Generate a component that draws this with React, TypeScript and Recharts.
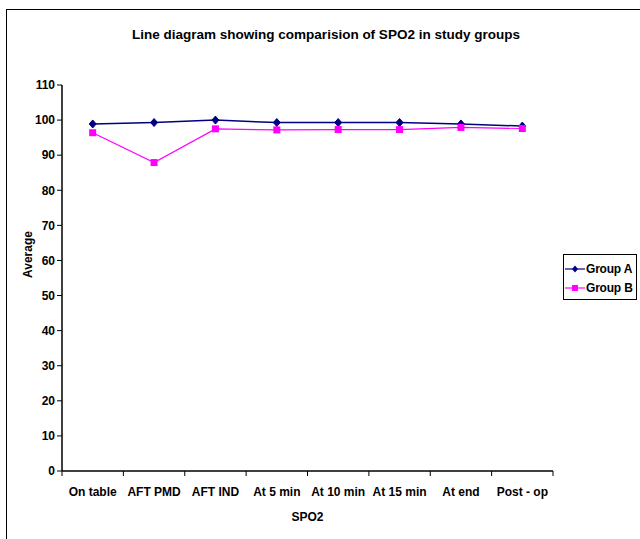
import React from 'react';
import { ComposedChart, Line, XAxis, YAxis } from 'recharts';

const stages = ['On table', 'AFT PMD', 'AFT IND', 'At 5 min', 'At 10 min', 'At 15 min', 'At end', 'Post - op'];
const groupA = [98.9, 99.3, 100, 99.3, 99.3, 99.3, 98.9, 98.3];
const groupB = [96.4, 87.9, 97.5, 97.2, 97.3, 97.3, 97.9, 97.6];
const yTicks = [0, 10, 20, 30, 40, 50, 60, 70, 80, 90, 100, 110];

const data = stages.map((s, i) => ({ stage: s, a: groupA[i], b: groupB[i] }));

const font = '"Liberation Sans", Arial, sans-serif';

const Diamond = (props: any) => {
    const { cx, cy } = props;
    if (cx == null || cy == null) return null;
    return <path d={`M${cx},${cy - 4}L${cx + 3.5},${cy}L${cx},${cy + 4}L${cx - 3.5},${cy}Z`} fill="#000080" stroke="#000080" />;
};

const Square = (props: any) => {
    const { cx, cy } = props;
    if (cx == null || cy == null) return null;
    return <rect x={cx - 3.5} y={cy - 3.5} width={7} height={7} fill="#FF00FF" />;
};

// category label at band centre, tick marks at band edges
const CatTick = (props: any) => {
    const { x, y, payload, index, visibleTicksCount, width } = props;
    const bw = width / visibleTicksCount;
    const left = x - bw / 2;
    return (
        <g>
            <line x1={left} y1={y} x2={left} y2={y + 5} stroke="#000" />
            {index === visibleTicksCount - 1 && <line x1={x + bw / 2} y1={y} x2={x + bw / 2} y2={y + 5} stroke="#000" />}
            <text x={x} y={y + 25} textAnchor="middle" fill="#000" fontFamily={font} fontWeight={700} fontSize={12}>
                {payload.value}
            </text>
        </g>
    );
};

const LegendBox = () => (
    <div style={{ position: 'absolute', left: 563, top: 254, border: '1px solid #000', width: 74, height: 46, boxSizing: 'border-box', background: '#fff', fontFamily: font, fontWeight: 700, fontSize: 12, padding: '4px 0 0 1px', whiteSpace: 'nowrap' }}>
        {[{ name: 'Group A', c: '#000080', m: 'd' }, { name: 'Group B', c: '#FF00FF', m: 's' }].map((it) => (
            <div key={it.name} style={{ display: 'flex', alignItems: 'center', height: 19 }}>
                <svg width={20} height={10} style={{ marginRight: 1, flex: 'none' }}>
                    <line x1={0} y1={5} x2={20} y2={5} stroke={it.c} strokeWidth={1.2} />
                    {it.m === 'd'
                        ? <path d="M10,1.5L13,5L10,8.5L7,5Z" fill={it.c} />
                        : <rect x={7} y={2} width={6} height={6} fill={it.c} />}
                </svg>
                <span style={{ letterSpacing: -0.2 }}>{it.name}</span>
            </div>
        ))}
    </div>
);

export default function App() {
    return (
        <div style={{ position: 'absolute', left: 0, top: 0, width: 640, height: 539, background: '#fff', overflow: 'hidden' }}>
            <div style={{ position: 'absolute', left: 6, top: 9, width: 700, height: 600, borderLeft: '1px solid #000', borderTop: '1px solid #000' }} />
            <div style={{ position: 'absolute', left: 6, top: 27, width: 640, textAlign: 'center', fontFamily: font, fontWeight: 700, fontSize: 13.5 }}>
                Line diagram showing comparision of SPO2 in study groups
            </div>
            <ComposedChart
                width={640}
                height={539}
                data={data}
                margin={{ top: 85, right: 87, left: 6, bottom: 38 }}
                style={{ position: 'absolute', left: 0, top: 0 }}
            >
                <XAxis xAxisId="top" orientation="top" dataKey="stage" tick={false} tickLine={false} axisLine={{ stroke: '#808080' }} height={0} />
                <XAxis
                    xAxisId="cat"
                    dataKey="stage"
                    scale="band"
                    interval={0}
                    tickLine={false}
                    tickSize={0}
                    tickMargin={0}
                    axisLine={{ stroke: '#000', strokeWidth: 1.5 }}
                    tick={<CatTick />}
                    height={30}
                    label={{ value: 'SPO2', position: 'insideBottom', offset: -20, fill: '#000', fontFamily: font, fontWeight: 700, fontSize: 12 }}
                />
                <YAxis
                    domain={[0, 110]}
                    ticks={yTicks}
                    interval={0}
                    width={56}
                    tickSize={5}
                    tickLine={{ stroke: '#000' }}
                    axisLine={{ stroke: '#000', strokeWidth: 1.5 }}
                    tick={{ fill: '#000', fontFamily: font, fontWeight: 700, fontSize: 12 }}
                    label={{ value: 'Average', angle: -90, position: 'insideLeft', offset: 22, fill: '#000', fontFamily: font, fontWeight: 700, fontSize: 12 }}
                />
                <YAxis yAxisId="right" orientation="right" width={0} tick={false} tickLine={false} axisLine={{ stroke: '#808080' }} />
                <Line xAxisId="cat" dataKey="a" name="Group A" stroke="#000080" strokeWidth={1.5} dot={<Diamond />} activeDot={false} isAnimationActive={false} />
                <Line xAxisId="cat" dataKey="b" name="Group B" stroke="#FF00FF" strokeWidth={1.2} dot={<Square />} activeDot={false} isAnimationActive={false} />
            </ComposedChart>
            <LegendBox />
        </div>
    );
}
